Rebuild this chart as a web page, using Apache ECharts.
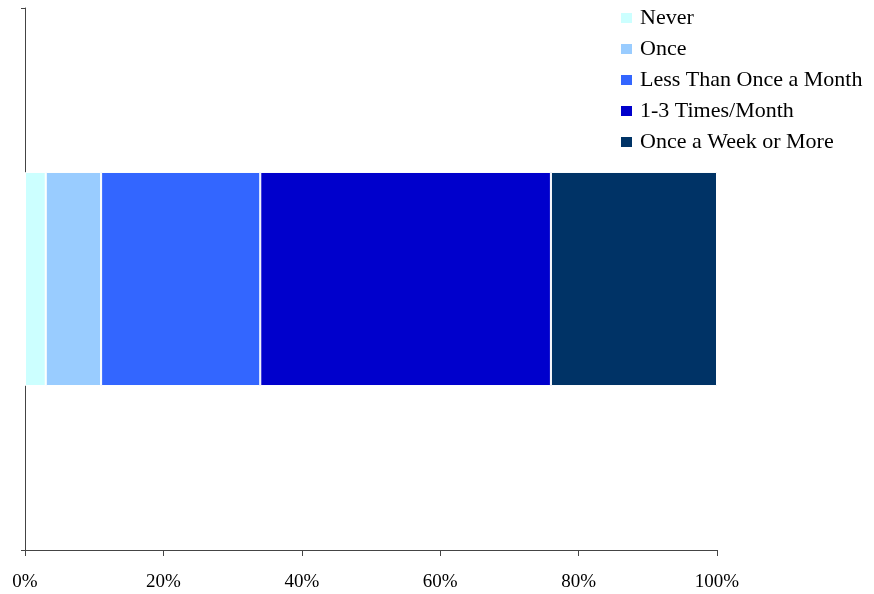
<!DOCTYPE html>
<html>
<head>
<meta charset="utf-8">
<script src="https://cdn.jsdelivr.net/npm/echarts@6/dist/echarts.min.js"></script>
<style>
  html, body { margin: 0; padding: 0; background: #fff; }
  #chart { width: 874px; height: 594px; }
</style>
</head>
<body>
<div id="chart"></div>
<script>
// Frequency responses, share of respondents (%)
const categories = ['Responses'];
const seriesNames = ['Never', 'Once', 'Less Than Once a Month', '1-3 Times/Month', 'Once a Week or More'];
const never = [3];
const once = [8];
const lessThanMonthly = [23];
const oneToThreeMonthly = [42];
const weeklyOrMore = [24];
const xTicks = [0, 20, 40, 60, 80, 100];

const values = [never, once, lessThanMonthly, oneToThreeMonthly, weeklyOrMore];
const colors = ['#CCFFFF', '#99CCFF', '#3366FF', '#0000CC', '#003366'];
const font = '"Liberation Serif", "Times New Roman", serif';

const chart = echarts.init(document.getElementById('chart'), null, { renderer: 'canvas' });
chart.setOption({
  animation: false,
  backgroundColor: '#ffffff',
  grid: { left: 25, right: 157, top: 8, bottom: 44, containLabel: false },
  legend: {
    orient: 'vertical',
    left: 621,
    top: 7,
    padding: 0,
    icon: 'rect',
    itemWidth: 11,
    itemHeight: 10,
    itemGap: 9,
    itemStyle: { borderWidth: 0 },
    textStyle: { fontFamily: font, fontSize: 22, color: '#000', padding: [0, 0, 0, 3] },
    data: seriesNames
  },
  xAxis: {
    type: 'value',
    min: xTicks[0],
    max: xTicks[xTicks.length - 1],
    interval: xTicks[1] - xTicks[0],
    splitLine: { show: false },
    axisLine: { show: true, lineStyle: { color: '#444', width: 1 } },
    axisTick: { show: true, length: 6, lineStyle: { color: '#444' } },
    axisLabel: {
      formatter: v => v + '%',
      fontFamily: font,
      fontSize: 19,
      color: '#000',
      margin: 23
    }
  },
  yAxis: {
    type: 'category',
    data: categories,
    axisLine: { show: true, lineStyle: { color: '#444', width: 1 } },
    axisTick: { show: true, length: 4, lineStyle: { color: '#444' } },
    axisLabel: { show: false }
  },
  series: seriesNames.map((name, i) => ({
    name,
    type: 'bar',
    stack: 'total',
    barWidth: '39.5%',
    data: values[i],
    itemStyle: { color: colors[i], borderColor: '#ffffff', borderWidth: 1 }
  }))
});
</script>
</body>
</html>
